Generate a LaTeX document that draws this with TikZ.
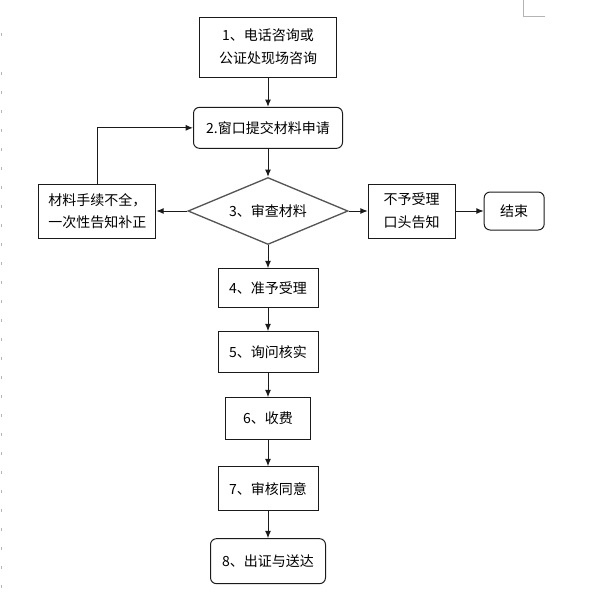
\documentclass[tikz,border=0pt]{standalone}
\usepackage{fontspec}
\newfontfamily\cjk{Noto Sans CJK SC}
\usepackage{tikz}
\usetikzlibrary{positioning,shapes.geometric,arrows.meta}
\definecolor{FlowLine}{HTML}{1A1A1A}
\definecolor{DiaLine}{HTML}{555555}
\definecolor{PageMark}{HTML}{B4B4B4}

\begin{document}
\begin{tikzpicture}[>={Latex[length=5.5pt,width=4.5pt]},x=0.75pt,y=-0.75pt]
  \tikzstyle{stepbox}=[draw=FlowLine,line width=0.75pt,inner sep=0pt,align=center,
    font=\cjk\fontsize{10.5}{17}\selectfont]
  \tikzstyle{roundbox}=[stepbox,rounded corners=4.5pt]
  \tikzstyle{checkbox}=[diamond,aspect=2.4,draw=DiaLine,line width=1pt,inner sep=0pt,
    minimum width=120pt,minimum height=50.25pt,font=\cjk\fontsize{10.5}{17}\selectfont]
  \tikzstyle{flow}=[->,draw=FlowLine,line width=0.75pt]
  \useasboundingbox (0,0) rectangle (590,611);
  % page marks
  \draw[PageMark,line width=0.75pt] (523,0) -- (523,16) -- (545,16);
  \foreach \y in {33,72,91,...,592}
    \draw[PageMark,line width=0.75pt] (1,\y) -- (1,\y+3);
  % main column
  \node[stepbox,minimum width=102.75pt,minimum height=45pt] (s1) at (268,47)
    {1、电话咨询或\\公证处现场咨询};
  \node[roundbox,minimum width=111.75pt,minimum height=30.75pt,below=22pt of s1] (s2)
    {2.窗口提交材料申请};
  \node[checkbox,below=21pt of s2] (s3) {3、审查材料};
  \node[stepbox,minimum width=75pt,minimum height=29.25pt,below=17.25pt of s3] (s4)
    {4、准予受理};
  \node[stepbox,minimum width=75pt,minimum height=30.75pt,below=17.25pt of s4] (s5)
    {5、询问核实};
  \node[stepbox,minimum width=63.75pt,minimum height=31.5pt,below=18pt of s5] (s6)
    {6、收费};
  \node[stepbox,minimum width=75pt,minimum height=33pt,below=19.5pt of s6] (s7)
    {7、审核同意};
  \node[roundbox,minimum width=86.25pt,minimum height=33.75pt,below=20.25pt of s7] (s8)
    {8、出证与送达};
  % side branches
  \node[stepbox,minimum width=87.75pt,minimum height=40.5pt,left=23.25pt of s3] (fix)
    {材料手续不全，\\一次性告知补正};
  \node[stepbox,minimum width=65.25pt,minimum height=40.5pt,right=14.25pt of s3] (deny)
    {不予受理\\口头告知};
  \node[roundbox,minimum width=45pt,minimum height=28.5pt,right=21pt of deny] (stop)
    {结束};
  % connectors
  \draw[flow] (s1)--(s2);
  \draw[flow] (s2)--(s3);
  \draw[flow] (s3)--(s4);
  \draw[flow] (s4)--(s5);
  \draw[flow] (s5)--(s6);
  \draw[flow] (s6)--(s7);
  \draw[flow] (s7)--(s8);
  \draw[flow] (s3.west)--(fix.east);
  \draw[flow] (fix.north) |- (s2.west);
  \draw[flow] (s3.east)--(deny.west);
  \draw[flow] (deny)--(stop);
\end{tikzpicture}
\end{document}
